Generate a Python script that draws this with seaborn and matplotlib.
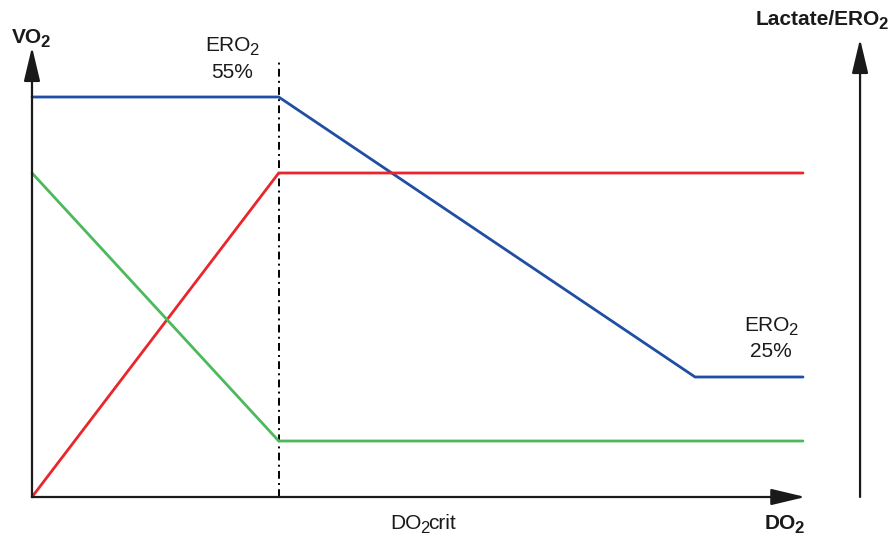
import matplotlib
matplotlib.use("Agg")
import matplotlib.pyplot as plt
import seaborn as sns
import pandas as pd

# Oxygen delivery (DO2) vs consumption (VO2), lactate and extraction ratio
do2_crit = 32
vo2_x = [0, 32, 86, 100]
vo2_y = [100, 100, 30, 30]
lactate_x = [0, 32, 100]
lactate_y = [0, 81, 81]
ero2_x = [0, 32, 100]
ero2_y = [81, 14, 14]

series_colors = {"VO2": "#1f4ea3", "Lactate": "#e8262b", "ERO2": "#4cb95c"}

frames = []
for name, xs, ys in [("VO2", vo2_x, vo2_y), ("Lactate", lactate_x, lactate_y),
                     ("ERO2", ero2_x, ero2_y)]:
    frames.append(pd.DataFrame({"DO2": xs, "value": ys, "series": name}))
df = pd.concat(frames, ignore_index=True)

sns.set_style("white")
plt.rcParams["font.family"] = ["Liberation Sans", "DejaVu Sans"]

W, H = 889, 538
fig = plt.figure(figsize=(W / 100, H / 100), dpi=100)
ax = fig.add_axes([0, 0, 1, 1])

# pixel scale: 7.71 px per x unit, 4 px per y unit, origin at (32, 497)
ax.set_xlim(-32 / 7.71, (W - 32) / 7.71)
ax.set_ylim(-(H - 497) / 4, 497 / 4)
ax.axis("off")

sns.lineplot(data=df, x="DO2", y="value", hue="series", units="series",
             estimator=None, sort=False, palette=series_colors, linewidth=2.0,
             legend=False, ax=ax, zorder=3)
for l in ax.lines:
    l.set_solid_joinstyle("miter")

# critical delivery marker
ax.plot([do2_crit, do2_crit], [0, 109], color="black", linewidth=1.4,
        linestyle=(0, (4, 2.2, 1, 2.2)), zorder=2)

arrow = dict(arrowstyle="-|>,head_length=2.1,head_width=0.5", color="#1a1a1a",
             linewidth=1.6, shrinkA=0, shrinkB=0, mutation_scale=10)
ax.annotate("", xy=(0, 112.5), xytext=(0, 0), arrowprops=arrow, zorder=4)
ax.annotate("", xy=(100.3, 0), xytext=(0, 0), arrowprops=arrow, zorder=4)
ax.annotate("", xy=(107.4, 114.5), xytext=(107.4, 0), arrowprops=arrow, zorder=4)


def fpos(px, py):
    return px / W, 1 - py / H


ink = "#1a1a1a"


def sub_text(cx, baseline, parts, size=15, bold=False):
    """Centre a label made of normal and subscript pieces at (cx, baseline)."""
    weight = "bold" if bold else "normal"
    renderer = fig.canvas.get_renderer()
    pieces = []
    total = 0
    for s, is_sub in parts:
        fs = size * 0.8 if is_sub else size
        t = fig.text(0, 0, s, fontsize=fs, fontweight=weight, ha="left",
                     va="baseline", color=ink)
        w = t.get_window_extent(renderer).width - 1.5
        pieces.append((t, w, is_sub))
        total += w
    x = cx - total / 2
    for t, w, is_sub in pieces:
        y = baseline + (0.2 * size * 100 / 72 if is_sub else 0)
        t.set_position(fpos(x, y))
        x += w


sub_text(30, 43, [("VO", False), ("2", True)], size=15, bold=True)
sub_text(821, 25, [("Lactate/ERO", False), ("2", True)], size=15, bold=True)
sub_text(783, 529, [("DO", False), ("2", True)], size=15, bold=True)
sub_text(422, 529, [("DO", False), ("2", True), ("crit", False)], size=15)
sub_text(231, 51, [("ERO", False), ("2", True)], size=15)
sub_text(231, 78, [("55%", False)], size=15)
sub_text(770, 331, [("ERO", False), ("2", True)], size=15)
sub_text(770, 357, [("25%", False)], size=15)

fig.savefig("out.png", dpi=100)
